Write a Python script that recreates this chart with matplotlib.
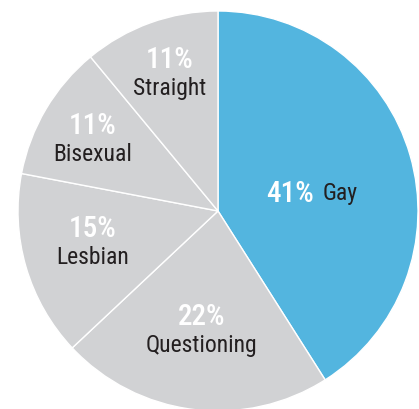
import numpy as np
import matplotlib.pyplot as plt

# data
labels = ['Gay', 'Questioning', 'Lesbian', 'Bisexual', 'Straight']
values = [41, 22, 15, 11, 11]
colors = ['#53b5df', '#d1d2d4', '#d1d2d4', '#d1d2d4', '#d1d2d4']
label_r = [0.49, 0.585, 0.64, 0.73, 0.745]   # how far from centre each label sits
label_da = [-3.7, -0.7, -3.6, -0.2, -1.0]    # small angle nudges (deg)

plt.rcParams['font.family'] = ['Roboto Condensed', 'Barlow Semi Condensed', 'DejaVu Sans']

fig = plt.figure(figsize=(4.19, 4.10), dpi=100)
ax = fig.add_axes([18 / 419, -2 / 410, 400 / 419, 400 / 410])

wedges, _ = ax.pie(values, colors=colors, startangle=90, counterclock=False,
                   radius=1, wedgeprops=dict(edgecolor='white', linewidth=1))
ax.set_xlim(-1, 1)
ax.set_ylim(-1, 1)
ax.set_aspect('equal')
ax.axis('off')

pct_size = 21
lab_size = 17
for w, lab, v, r, da in zip(wedges, labels, values, label_r, label_da):
    ang = np.deg2rad((w.theta1 + w.theta2) / 2 + da)
    x, y = r * np.cos(ang), r * np.sin(ang)
    if lab == 'Gay':
        # percent and name on one line
        ax.text(x + 0.0, y, f'{v}%', color='white', fontsize=pct_size,
                fontweight='medium', ha='right', va='center_baseline')
        ax.text(x + 0.045, y, lab, color='#231f20', fontsize=lab_size,
                ha='left', va='center_baseline')
    else:
        ax.text(x, y + 0.07, f'{v}%', color='white', fontsize=pct_size,
                fontweight='medium', ha='center', va='center_baseline')
        ax.text(x, y - 0.075, lab, color='#231f20', fontsize=lab_size,
                ha='center', va='center_baseline')

fig.savefig('out.png', dpi=100)
